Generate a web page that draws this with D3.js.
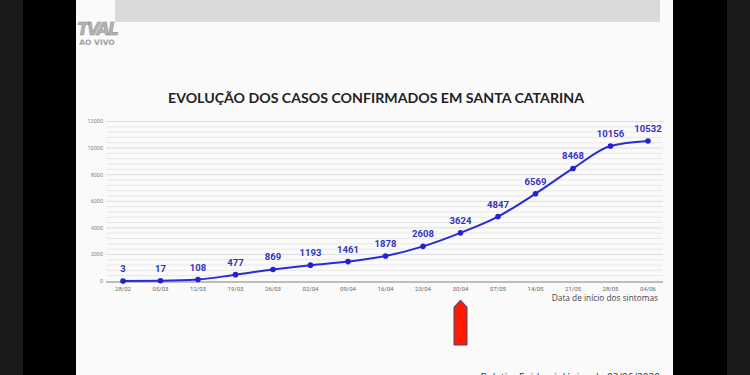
<!DOCTYPE html>
<html>
<head>
<meta charset="utf-8">
<script src="https://cdn.jsdelivr.net/npm/d3@7"></script>
<style>
	html, body { margin: 0; padding: 0; background: #000; }
	svg { display: block; }
</style>
</head>
<body>
<svg id="chart" width="750" height="375"></svg>
<script>
// Chart values.
const dates = ['28/02', '05/03', '12/03', '19/03', '26/03', '02/04', '09/04', '16/04', '23/04', '30/04', '07/05', '14/05', '21/05', '28/05', '04/06'];
const cases = [3, 17, 108, 477, 869, 1193, 1461, 1878, 2608, 3624, 4847, 6569, 8468, 10156, 10532];
const yTicks = [0, 2000, 4000, 6000, 8000, 10000, 12000];

const svg = d3.select('#chart');

// TV frame: dark side bars and white slide.
svg.append('rect').attr('width', 750).attr('height', 375).attr('fill', '#000');
svg.append('rect').attr('width', 23).attr('height', 375).attr('fill', '#1a1a1a');
svg.append('rect').attr('x', 727).attr('width', 23).attr('height', 375).attr('fill', '#1a1a1a');
svg.append('rect').attr('x', 76).attr('width', 597).attr('height', 375).attr('fill', '#fbfafb');
svg.append('rect').attr('x', 115).attr('width', 545).attr('height', 22).attr('fill', '#dadada');

// Channel logo.
svg.append('text')
	.attr('x', 97).attr('y', 35)
	.attr('text-anchor', 'middle')
	.attr('font-family', 'DejaVu Sans')
	.attr('font-weight', 'bold')
	.attr('font-style', 'italic')
	.attr('font-size', 17)
	.attr('letter-spacing', -2)
	.attr('fill', '#b4b4b4')
	.attr('stroke', '#8a8a8a')
	.attr('stroke-width', 0.5)
	.text('TVAL');
svg.append('text')
	.attr('x', 97).attr('y', 45)
	.attr('text-anchor', 'middle')
	.attr('font-family', 'DejaVu Sans')
	.attr('font-weight', 'bold')
	.attr('font-size', 7.5)
	.attr('fill', '#a0a0a0')
	.text('AO VIVO');

// Title.
svg.append('text')
	.attr('x', 376).attr('y', 103)
	.attr('text-anchor', 'middle')
	.attr('font-family', 'Lato, "Open Sans", sans-serif')
	.attr('font-weight', 'bold')
	.attr('font-size', 14)
	.attr('textLength', 416)
	.attr('lengthAdjust', 'spacingAndGlyphs')
	.attr('fill', '#222')
	.text('EVOLUÇÃO DOS CASOS CONFIRMADOS EM SANTA CATARINA');

// Scales.
const x = d3.scalePoint().domain(dates).range([123, 648]);
const y = d3.scaleLinear().domain([0, 12000]).range([281, 121.5]);

// Grid: minor lines every 400, major every 2000.
const grid = svg.append('g');
grid.selectAll('line')
	.data(d3.range(400, 12001, 400))
	.join('line')
	.attr('x1', 106).attr('x2', 663)
	.attr('y1', d => y(d)).attr('y2', d => y(d))
	.attr('stroke', d => (d % 2000 === 0 ? '#dcdcdc' : '#e9e9e9'))
	.attr('stroke-width', 1);

// Y axis labels.
svg.append('g')
	.selectAll('text')
	.data(yTicks)
	.join('text')
	.attr('x', 103)
	.attr('y', d => y(d))
	.attr('dy', '0.35em')
	.attr('text-anchor', 'end')
	.attr('font-family', 'Roboto, sans-serif')
	.attr('font-size', 5.5)
	.attr('fill', '#888')
	.text(d => d);

// Base axis line.
svg.append('line')
	.attr('x1', 106).attr('x2', 663)
	.attr('y1', 282).attr('y2', 282)
	.attr('stroke', '#a8a8a8')
	.attr('stroke-width', 1.6);

// X axis labels.
svg.append('g')
	.selectAll('text')
	.data(dates)
	.join('text')
	.attr('x', d => x(d))
	.attr('y', 291)
	.attr('text-anchor', 'middle')
	.attr('font-family', 'Roboto, sans-serif')
	.attr('font-size', 6)
	.attr('fill', '#666')
	.text(d => d);

svg.append('text')
	.attr('x', 658).attr('y', 301)
	.attr('text-anchor', 'end')
	.attr('font-family', '"Open Sans", sans-serif')
	.attr('font-size', 8.3)
	.attr('fill', '#444')
	.text('Data de início dos sintomas');

// Series line.
const line = d3.line()
	.x((d, i) => x(dates[i]))
	.y(d => y(d))
	.curve(d3.curveMonotoneX);

svg.append('path')
	.datum(cases)
	.attr('d', line)
	.attr('fill', 'none')
	.attr('stroke', '#2a2ad6')
	.attr('stroke-width', 2);

svg.append('g')
	.selectAll('circle')
	.data(cases)
	.join('circle')
	.attr('cx', (d, i) => x(dates[i]))
	.attr('cy', d => y(d))
	.attr('r', 2.8)
	.attr('fill', '#2222d0');

svg.append('g')
	.selectAll('text')
	.data(cases)
	.join('text')
	.attr('x', (d, i) => x(dates[i]))
	.attr('y', d => y(d) - 9)
	.attr('text-anchor', 'middle')
	.attr('font-family', 'Roboto, sans-serif')
	.attr('font-weight', 'bold')
	.attr('font-size', 9.5)
	.attr('fill', '#3333bb')
	.text(d => d);

// Red arrow pointing at 30/04.
const ax = x('30/04');
svg.append('path')
	.attr('d', d3.line()([[ax, 300], [ax + 6.5, 307], [ax + 6.5, 345], [ax - 6.5, 345], [ax - 6.5, 307]]) + 'Z')
	.attr('fill', '#ff1a00')
	.attr('stroke', '#3a4a8a')
	.attr('stroke-width', 1);

// Source, cut by the bottom edge.
svg.append('text')
	.attr('x', 660).attr('y', 381)
	.attr('text-anchor', 'end')
	.attr('font-family', '"Open Sans", sans-serif')
	.attr('font-size', 10)
	.attr('fill', '#333')
	.text('Boletim Epidemiológico de 03/06/2020');
</script>
</body>
</html>
